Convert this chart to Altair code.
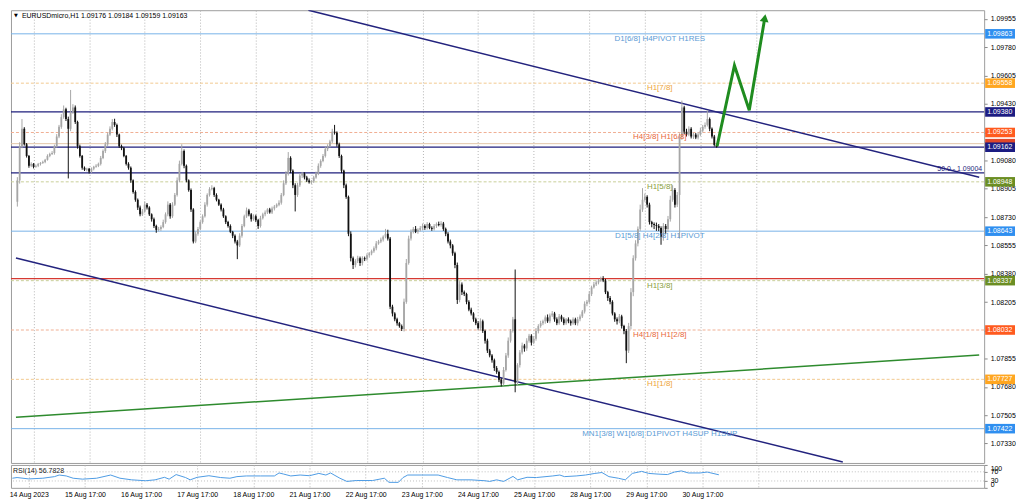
import altair as alt
import pandas as pd

FONT = "Liberation Sans"
W, H_MAIN, H_RSI = 978, 455, 23
X_DOMAIN = [-7.6, 408.4]
Y_DOMAIN = [1.07210, 1.10009]

# ---------------- candles (H1 bars, index 0 = first labelled bar) ----------------
FIRST_BAR = -7
FIRST_OPEN = 1.08825
close = [
    1.08957, 1.09168, 1.09276, 1.09180, 1.09108, 1.09047, 1.09059, 1.09041, 1.09047, 1.09059,
    1.09065, 1.09071, 1.09084, 1.09108, 1.09120, 1.09126, 1.09168, 1.09228, 1.09288, 1.09348,
    1.09396, 1.09336, 1.09276, 1.09378, 1.09408, 1.09318, 1.09168, 1.09108, 1.09035, 1.09023,
    1.09029, 1.09011, 1.09029, 1.09041, 1.09047, 1.09059, 1.09096, 1.09138, 1.09180, 1.09240,
    1.09276, 1.09318, 1.09300, 1.09240, 1.09168, 1.09156, 1.09108, 1.09059, 1.09035, 1.08957,
    1.08885, 1.08837, 1.08789, 1.08747, 1.08765, 1.08807, 1.08789, 1.08747, 1.08717, 1.08675,
    1.08651, 1.08657, 1.08669, 1.08699, 1.08747, 1.08807, 1.08735, 1.08807, 1.08867, 1.08957,
    1.09059, 1.09138, 1.09047, 1.08957, 1.08897, 1.08777, 1.08579, 1.08627, 1.08657, 1.08699,
    1.08735, 1.08807, 1.08867, 1.08903, 1.08909, 1.08867, 1.08837, 1.08807, 1.08777, 1.08735,
    1.08699, 1.08675, 1.08639, 1.08615, 1.08579, 1.08555, 1.08615, 1.08675, 1.08735, 1.08771,
    1.08747, 1.08717, 1.08735, 1.08711, 1.08675, 1.08723, 1.08747, 1.08759, 1.08777, 1.08759,
    1.08783, 1.08795, 1.08807, 1.08819, 1.08867, 1.08939, 1.08999, 1.09096, 1.09017, 1.08927,
    1.08867, 1.08927, 1.08987, 1.08999, 1.08975, 1.08957, 1.08945, 1.08951, 1.08975, 1.08999,
    1.09047, 1.09077, 1.09108, 1.09150, 1.09168, 1.09198, 1.09258, 1.09252, 1.09180, 1.09108,
    1.09017, 1.08927, 1.08855, 1.08627, 1.08476, 1.08434, 1.08458, 1.08476, 1.08446, 1.08476,
    1.08470, 1.08494, 1.08506, 1.08519, 1.08537, 1.08567, 1.08579, 1.08591, 1.08609, 1.08627,
    1.08597, 1.08176, 1.08134, 1.08098, 1.08074, 1.08056, 1.08038, 1.08206, 1.08446, 1.08597,
    1.08639, 1.08657, 1.08639, 1.08651, 1.08663, 1.08675, 1.08663, 1.08687, 1.08663, 1.08657,
    1.08675, 1.08687, 1.08681, 1.08690, 1.08657, 1.08627, 1.08579, 1.08555, 1.08506, 1.08434,
    1.08218, 1.08314, 1.08266, 1.08254, 1.08206, 1.08158, 1.08134, 1.08098, 1.08074, 1.08044,
    1.08086, 1.08026, 1.07966, 1.07905, 1.07875, 1.07845, 1.07797, 1.07773, 1.07725, 1.07701,
    1.07785, 1.07875, 1.07966, 1.08026, 1.08098, 1.07707, 1.07815, 1.07893, 1.07936, 1.07918,
    1.07966, 1.07996, 1.07954, 1.07978, 1.08026, 1.08056, 1.08074, 1.08086, 1.08110, 1.08086,
    1.08122, 1.08134, 1.08098, 1.08074, 1.08116, 1.08098, 1.08074, 1.08098, 1.08086, 1.08074,
    1.08098, 1.08074, 1.08098, 1.08116, 1.08146, 1.08194, 1.08206, 1.08254, 1.08296, 1.08314,
    1.08326, 1.08338, 1.08350, 1.08338, 1.08266, 1.08230, 1.08206, 1.08134, 1.08098, 1.08086,
    1.08116, 1.08056, 1.08026, 1.07905, 1.08056, 1.08266, 1.08476, 1.08567, 1.08657, 1.08777,
    1.08837, 1.08855, 1.08807, 1.08699, 1.08687, 1.08681, 1.08675, 1.08663, 1.08609, 1.08675,
    1.08657, 1.08717, 1.08837, 1.08897, 1.08807, 1.08867, 1.09228, 1.09408, 1.09258, 1.09240,
    1.09276, 1.09228, 1.09240, 1.09222, 1.09240, 1.09264, 1.09288, 1.09300, 1.09336, 1.09276,
    1.09228, 1.09176, 1.09163,
]
# wick lengths above max(open, close) and below min(open, close), in points (0.00001)
upper_wick_pts = [
    20, 25, 60, 10, 8, 6, 10, 5, 8, 6,
    5, 8, 6, 10, 8, 12, 10, 15, 12, 18,
    24, 10, 15, 138, 20, 12, 8, 10, 6, 8,
    6, 5, 8, 6, 10, 8, 12, 10, 14, 12,
    15, 18, 20, 8, 6, 10, 8, 6, 10, 8,
    6, 10, 8, 12, 15, 20, 10, 8, 6, 10,
    8, 12, 10, 15, 12, 20, 10, 15, 12, 18,
    20, 42, 10, 8, 6, 10, 8, 15, 12, 10,
    12, 15, 10, 12, 18, 8, 10, 6, 8, 10,
    6, 8, 10, 6, 8, 10, 15, 12, 10, 18,
    10, 8, 12, 10, 8, 15, 10, 12, 8, 10,
    12, 10, 8, 15, 12, 18, 15, 36, 10, 8,
    12, 15, 12, 10, 8, 10, 12, 8, 10, 12,
    15, 10, 12, 15, 12, 10, 18, 42, 8, 10,
    8, 6, 10, 8, 15, 10, 12, 15, 10, 12,
    10, 12, 8, 10, 12, 15, 10, 12, 8, 30,
    25, 10, 12, 8, 10, 8, 10, 20, 25, 18,
    15, 12, 18, 10, 12, 15, 10, 12, 8, 10,
    12, 10, 15, 15, 10, 8, 10, 12, 8, 10,
    15, 20, 12, 10, 8, 10, 12, 8, 10, 12,
    18, 10, 8, 12, 10, 8, 10, 12, 8, 10,
    18, 15, 20, 12, 15, 308, 12, 15, 18, 10,
    15, 12, 10, 15, 18, 12, 15, 10, 12, 18,
    12, 15, 10, 12, 15, 10, 12, 8, 12, 10,
    12, 10, 15, 12, 10, 15, 12, 18, 10, 15,
    12, 10, 12, 15, 10, 8, 12, 10, 8, 12,
    15, 10, 8, 12, 20, 25, 18, 20, 15, 30,
    72, 20, 10, 12, 8, 10, 15, 12, 10, 18,
    12, 20, 25, 30, 12, 18, 20, 42, 10, 18,
    15, 10, 12, 10, 15, 18, 12, 15, 54, 10,
    8, 10, 8,
]
lower_wick_pts = [
    30, 20, 12, 8, 10, 12, 8, 10, 6, 8,
    10, 6, 8, 5, 8, 6, 10, 8, 10, 12,
    10, 12, 307, 15, 10, 12, 15, 10, 12, 8,
    10, 12, 8, 10, 6, 8, 10, 8, 12, 10,
    8, 10, 12, 15, 10, 12, 8, 10, 12, 15,
    10, 12, 15, 12, 10, 8, 12, 10, 15, 12,
    18, 10, 12, 8, 10, 12, 15, 10, 8, 10,
    12, 10, 15, 12, 10, 15, 12, 10, 12, 8,
    10, 8, 12, 10, 8, 12, 10, 8, 12, 10,
    12, 10, 8, 15, 12, 85, 10, 12, 8, 10,
    12, 15, 10, 12, 18, 10, 8, 12, 10, 8,
    10, 12, 8, 10, 12, 8, 10, 12, 15, 18,
    102, 12, 10, 15, 12, 10, 8, 12, 10, 8,
    10, 12, 8, 10, 12, 8, 10, 12, 15, 12,
    15, 18, 12, 15, 20, 25, 15, 12, 18, 15,
    12, 10, 15, 12, 10, 12, 8, 10, 12, 10,
    12, 15, 18, 12, 15, 10, 12, 15, 12, 10,
    12, 10, 8, 12, 10, 15, 12, 10, 8, 12,
    10, 12, 8, 10, 12, 15, 12, 18, 15, 20,
    25, 15, 18, 12, 15, 10, 12, 15, 12, 10,
    15, 12, 18, 15, 12, 15, 18, 12, 15, 18,
    12, 10, 15, 12, 10, 60, 18, 15, 12, 20,
    15, 12, 18, 10, 12, 15, 10, 12, 15, 10,
    12, 10, 15, 12, 10, 15, 12, 10, 12, 15,
    10, 12, 15, 12, 10, 12, 15, 10, 12, 8,
    10, 12, 8, 10, 12, 18, 15, 12, 15, 20,
    12, 15, 20, 78, 15, 20, 25, 15, 18, 12,
    15, 12, 18, 15, 20, 25, 30, 20, 50, 25,
    30, 20, 15, 12, 18, 15, 270, 20, 15, 12,
    10, 12, 15, 10, 12, 8, 10, 12, 10, 15,
    12, 10, 4,
]

# ---------------- RSI(14) ----------------
rsi_bar = [-7, -5, 0, 6, 11, 13, 16, 19, 23, 29, 35, 39, 44, 50, 54, 58, 60, 63, 67, 69,
           72, 77, 82, 86, 89, 93, 99, 105, 107, 109, 112, 116, 120, 124, 127, 129, 133, 136, 140, 147,
           152, 154, 158, 160, 162, 168, 175, 179, 183, 189, 195, 197, 200, 203, 207, 209, 213, 217, 224, 227,
           229, 234, 238, 242, 245, 248, 252, 255, 258, 262, 265, 269, 273, 276, 279, 282, 287, 290, 295]
rsi_val = [42, 45, 39, 42, 49, 56, 52, 42, 38, 42, 56, 42, 35, 31, 35, 46, 38, 58, 45, 35,
           46, 53, 45, 42, 49, 52, 52, 52, 65, 60, 52, 56, 53, 63, 56, 65, 42, 28, 32, 32,
           42, 24, 24, 45, 56, 56, 56, 45, 35, 35, 31, 28, 35, 28, 50, 35, 46, 45, 52, 56,
           49, 52, 56, 63, 67, 49, 42, 35, 63, 72, 63, 60, 58, 69, 74, 65, 65, 69, 57]

# ---------------- axes ----------------
tick_bars = [0, 24, 48, 72, 96, 120, 144, 168, 192, 216, 240, 264, 288, 312]
tick_labels = ["14 Aug 2023", "15 Aug 17:00", "16 Aug 17:00", "17 Aug 17:00", "18 Aug 17:00",
               "21 Aug 17:00", "22 Aug 17:00", "23 Aug 17:00", "24 Aug 17:00", "25 Aug 17:00",
               "28 Aug 17:00", "29 Aug 17:00", "30 Aug 17:00", ""]
price_ticks = [1.09955, 1.09780, 1.09605, 1.09430, 1.09255, 1.09080, 1.08905, 1.08730,
               1.08555, 1.08380, 1.08205, 1.08030, 1.07855, 1.07680, 1.07505, 1.07330]
# tick labels that sit fully under a price tag on the scale
covered_ticks = ["1.09255", "1.08030"]
rsi_ticks = [0, 30, 70, 100]

# ---------------- levels ----------------
level_price = [1.09863, 1.09558, 1.09253, 1.08948, 1.08643, 1.08337, 1.08032, 1.07727, 1.07422]
level_name = ["D1[6/8] H4PIVOT H1RES", "H1[7/8]", "H4[3/8] H1[6/8]", "H1[5/8]",
              "D1[5/8] H4[2/8] H1PIVOT", "H1[3/8]", "H4[1/8] H1[2/8]", "H1[1/8]",
              "MN1[3/8] W1[6/8] D1PIVOT H4SUP H1SUP"]
level_kind = ["blue", "orange", "red", "olive", "blue", "olive", "red", "orange", "blue"]
kind_line = {"blue": "#78b2e8", "orange": "#f2c98e", "red": "#f0ae92", "olive": "#c9cf98"}
kind_text = {"blue": "#5b9bd5", "orange": "#eea43a", "red": "#e8683c", "olive": "#8a9e3e"}

navy_price = [1.09380, 1.09162, 1.09004]
red_price = [1.08350]
tan_price = [1.09184]

# first tag is almost fully covered by its neighbours (only a sliver of its box shows)
tag_price = [1.09184, 1.09863, 1.09558, 1.09380, 1.09253, 1.09162, 1.08948, 1.08643,
             1.08337, 1.08032, 1.07727, 1.07422]
tag_color = ["#e0482a", "#2f8ff0", "#ffa620", "#1c1c82", "#ff5a1e", "#1c1c82", "#6b8e23",
             "#2f8ff0", "#6b8e23", "#ff5a1e", "#ffa620", "#2f8ff0"]

trend_id = ["upper", "upper", "lower", "lower", "green", "green"]
trend_bar = [118.7, 408.4, -7.6, 349.5, -7.6, 408.4]
trend_price = [1.10009, 1.08976, 1.08477, 1.07216, 1.07492, 1.07877]
trend_color = {"upper": "#23237e", "lower": "#23237e", "green": "#2e8b2e"}

proj_bar = [295.2, 302.7, 309.1, 315.8]
proj_price = [1.09168, 1.09667, 1.09390, 1.09961]

NAVY = "#1f1f7c"
GREEN_PROJ = "#1f8c1f"

# ---------------- tables ----------------
assert len(close) == len(upper_wick_pts) == len(lower_wick_pts)
assert len(rsi_bar) == len(rsi_val)
opens = [FIRST_OPEN] + close[:-1]
rows = []
for k, (o, c, u, l) in enumerate(zip(opens, close, upper_wick_pts, lower_wick_pts)):
    rows.append({
        "bar": FIRST_BAR + k, "open": o, "close": c,
        "high": max(o, c) + u * 1e-5, "low": min(o, c) - l * 1e-5,
        "dir": "bull" if c >= o else "bear",
    })
candles = pd.DataFrame(rows)

levels = pd.DataFrame({
    "price": level_price, "name": level_name,
    "line": [kind_line[k] for k in level_kind],
    "tcolor": [kind_text[k] for k in level_kind],
    "solid": [k == "blue" for k in level_kind],
})
tags = pd.DataFrame({"price": tag_price, "color": tag_color,
                     "label": [f"{p:.5f}" for p in tag_price]})
trends = pd.DataFrame({"id": trend_id, "bar": trend_bar, "price": trend_price,
                       "color": [trend_color[t] for t in trend_id]})
proj = pd.DataFrame({"bar": proj_bar, "price": proj_price, "order": list(range(len(proj_bar)))})
rsi = pd.DataFrame({"bar": rsi_bar, "rsi": rsi_val})

label_map = "''"
for v, lab in reversed(list(zip(tick_bars, tick_labels))):
    label_map = f"datum.value == {v} ? '{lab}' : ({label_map})"
price_label = "format(datum.value, '.5f')"
for t in covered_ticks:
    price_label = f"format(datum.value, '.5f') == '{t}' ? '' : ({price_label})"

# ---------------- encodings ----------------
x_scale = alt.Scale(domain=X_DOMAIN, nice=False, zero=False)
grid_kw = dict(grid=True, gridColor="#b4b4b4", gridDash=[1, 2], gridWidth=1)
x_axis_main = alt.Axis(values=tick_bars, labels=False, ticks=False, domain=False, title=None, **grid_kw)
x_axis_rsi = alt.Axis(values=tick_bars, labelExpr=label_map, labelFont=FONT, labelFontSize=7,
                      labelColor="#000", labelAngle=0, labelPadding=3, labelFlush=False,
                      labelOverlap=False, ticks=False, domain=False, title=None, **grid_kw)
y_axis = alt.Axis(orient="right", values=price_ticks, labelExpr=price_label, grid=False, title=None,
                  labelFont=FONT, labelFontSize=7, labelColor="#000", tickSize=3,
                  tickColor="#8a8a8a", domain=False, labelPadding=3, labelOverlap=False)
y_scale = alt.Scale(domain=Y_DOMAIN, nice=False, zero=False)


def X(field, axis=x_axis_main):
    return alt.X(field, type="quantitative", scale=x_scale, axis=axis)


def Y(field):
    return alt.Y(field, type="quantitative", scale=y_scale, axis=y_axis)


# ---------------- main panel layers ----------------
solid_levels = alt.Chart(levels[levels["solid"]]).mark_rule(strokeWidth=1).encode(
    y=Y("price"), color=alt.Color("line:N", scale=None))
dashed_levels = alt.Chart(levels[~levels["solid"]]).mark_rule(strokeWidth=1, strokeDash=[3, 2]).encode(
    y=Y("price"), color=alt.Color("line:N", scale=None))
tan_rule = alt.Chart(pd.DataFrame({"price": tan_price})).mark_rule(strokeWidth=1, color="#e2c6a8").encode(y=Y("price"))
red_rule = alt.Chart(pd.DataFrame({"price": red_price})).mark_rule(strokeWidth=1.2, color="#d63a32").encode(y=Y("price"))
navy_rules = alt.Chart(pd.DataFrame({"price": navy_price})).mark_rule(strokeWidth=1.3, color=NAVY).encode(y=Y("price"))

trend_lines = alt.Chart(trends).mark_line(strokeWidth=1.5, clip=True).encode(
    x=X("bar"), y=Y("price"), detail="id:N", color=alt.Color("color:N", scale=None))

dir_color = alt.Color("dir:N", scale=alt.Scale(domain=["bull", "bear"], range=["#a6a6a6", "#111111"]), legend=None)
wicks = alt.Chart(candles).mark_rule(strokeWidth=1).encode(
    x=X("bar"), y=Y("low"), y2="high", color=dir_color)
body_color = alt.Color("dir:N", scale=alt.Scale(domain=["bull", "bear"], range=["#c4c4c4", "#000000"]), legend=None)
bodies = alt.Chart(candles).mark_bar(size=1.8).encode(
    x=X("bar"), y=Y("open"), y2="close", color=body_color)

proj_line = alt.Chart(proj).mark_line(strokeWidth=3, color=GREEN_PROJ, strokeJoin="miter", clip=True).encode(
    x=X("bar"), y=Y("price"), order="order:Q")
proj_head = alt.Chart(proj.tail(1)).mark_point(shape="triangle-up", filled=True, size=80, angle=10,
                                               color=GREEN_PROJ, opacity=1).encode(x=X("bar"), y=Y("price"))

level_text = alt.Chart(levels).mark_text(font=FONT, fontSize=8, align="center", baseline="top", dy=1).encode(
    x=alt.value(652), y=Y("price"), text="name:N", color=alt.Color("tcolor:N", scale=None))
fib_text = alt.Chart(pd.DataFrame({"price": [1.09004], "t": ["50.0 - 1.09004"]})).mark_text(
    font=FONT, fontSize=7, align="right", baseline="bottom", dy=-1, color=NAVY).encode(
    x=alt.value(W - 2), y=Y("price"), text="t:N")
title_text = alt.Chart(pd.DataFrame({"t": ["EURUSDmicro,H1  1.09176 1.09184 1.09159 1.09163"]})).mark_text(
    font=FONT, fontSize=7, align="left", baseline="middle", color="#000").encode(
    x=alt.value(11), y=alt.value(6), text="t:N")
title_mark = alt.Chart(pd.DataFrame({"t": ["▼"]})).mark_text(
    font="DejaVu Sans", fontSize=5, align="left", baseline="middle", color="#000").encode(
    x=alt.value(3), y=alt.value(5), text="t:N")

BOX = "M-1,-0.32H1V0.32H-1Z"


def tag_box(df):
    return alt.Chart(df).mark_point(shape=BOX, filled=True, size=900, opacity=1, strokeWidth=0, clip=False).encode(
        x=alt.value(W + 16), y=Y("price"), color=alt.Color("color:N", scale=None))


def tag_text(df):
    return alt.Chart(df).mark_text(font=FONT, fontSize=7, align="left", baseline="middle", color="#ffffff",
                                   clip=False).encode(x=alt.value(W + 3), y=Y("price"), text="label:N")


main = alt.layer(
    solid_levels, dashed_levels, tan_rule, red_rule, navy_rules, trend_lines,
    wicks, bodies, proj_line, proj_head, level_text, fib_text, title_mark, title_text,
    tag_box(tags.iloc[:1]), tag_box(tags.iloc[1:]), tag_text(tags.iloc[1:]),
).properties(width=W, height=H_MAIN)

# ---------------- RSI panel ----------------
rsi_y = alt.Y("rsi:Q", scale=alt.Scale(domain=[0, 100], nice=False),
              axis=alt.Axis(orient="right", values=rsi_ticks, grid=False, title=None, labelFont=FONT,
                            labelFontSize=7, labelColor="#000", tickSize=3, tickColor="#8a8a8a",
                            domain=False, labelPadding=3, labelOverlap=False, labelFlush=True))
rsi_levels = alt.Chart(pd.DataFrame({"rsi": [30, 70]})).mark_rule(strokeWidth=1, strokeDash=[1, 2], color="#c0c0c0").encode(y=rsi_y)
rsi_line = alt.Chart(rsi).mark_line(strokeWidth=1, color="#4e9be4").encode(
    x=X("bar", x_axis_rsi), y=rsi_y)
rsi_label = alt.Chart(pd.DataFrame({"t": ["RSI(14) 56.7828"]})).mark_text(
    font=FONT, fontSize=7, align="left", baseline="top", color="#222").encode(
    x=alt.value(2), y=alt.value(2), text="t:N")
rsi_panel = alt.layer(rsi_levels, rsi_line, rsi_label).properties(width=W, height=H_RSI)

chart = alt.vconcat(main, rsi_panel, spacing=0).properties(
    padding={"left": 0, "top": 0, "right": 0, "bottom": 0}, background="#ffffff"
).configure_view(stroke="#9c9c9c", strokeWidth=1)

chart.save("out.html", embed_options={"renderer": "svg", "actions": False})
